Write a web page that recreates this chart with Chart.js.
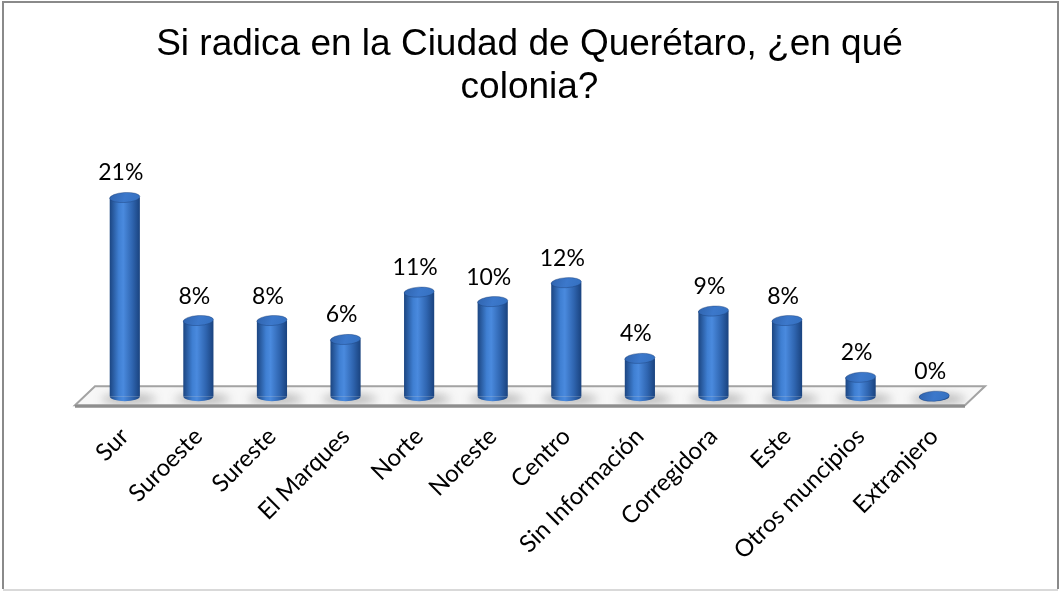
<!DOCTYPE html>
<html lang="es">
<head>
<meta charset="UTF-8">
<title>Colonia de residencia</title>
<script src="https://cdn.jsdelivr.net/npm/chart.js"></script>
<style>
  html, body { margin: 0; padding: 0; background: #fff; }
  #wrap { width: 1060px; height: 591px; }
</style>
</head>
<body>
<div id="wrap"><canvas id="coloniaChart" width="1060" height="591"></canvas></div>
<script>
const colonias = ['Sur', 'Suroeste', 'Sureste', 'El Marques', 'Norte', 'Noreste', 'Centro',
                  'Sin Información', 'Corregidora', 'Este', 'Otros muncipios', 'Extranjero'];
const porcentajes = [21, 8, 8, 6, 11, 10, 12, 4, 9, 8, 2, 0];
const titulo = ['Si radica en la Ciudad de Querétaro, ¿en qué', 'colonia?'];

const FONT_ETIQ = 'Lato, "Open Sans", sans-serif';
const RY = 5; // alto de las elipses del cilindro

// degradado horizontal para el cuerpo del cilindro
function cuerpoGrad(ctx, x, w) {
  const g = ctx.createLinearGradient(x - w / 2, 0, x + w / 2, 0);
  g.addColorStop(0, '#1c4682');
  g.addColorStop(0.3, '#3f7fd2');
  g.addColorStop(0.45, '#4a8ade');
  g.addColorStop(0.75, '#2f65b0');
  g.addColorStop(1, '#1a437f');
  return g;
}

// piso en perspectiva + sombras bajo cada barra
const pisoPlugin = {
  id: 'piso',
  beforeDatasetsDraw(chart) {
    const { ctx, scales: { x, y } } = chart;
    const base = y.getPixelForValue(0);
    const fy = base + 9, by = base - 10;
    const contorno = () => {
      ctx.beginPath();
      ctx.moveTo(x.left - 13, fy);
      ctx.lineTo(x.right - 6, fy);
      ctx.lineTo(x.right + 14, by);
      ctx.lineTo(x.left + 7, by);
      ctx.closePath();
    };
    ctx.save();
    contorno();
    ctx.fillStyle = '#f7f7f7';
    ctx.fill();
    ctx.clip();
    // sombras suaves
    ctx.filter = 'blur(5px)';
    ctx.fillStyle = 'rgba(60,60,60,0.35)';
    chart.getDatasetMeta(0).data.forEach(el => {
      ctx.beginPath();
      ctx.ellipse(el.x + 4, base + 3, el.width * 0.9, 5, 0, 0, Math.PI * 2);
      ctx.fill();
    });
    ctx.restore();

    ctx.save();
    ctx.strokeStyle = '#a3a3a3';
    ctx.lineWidth = 2;
    contorno();
    ctx.stroke();
    ctx.strokeStyle = '#8e8e8e';
    ctx.lineWidth = 3;
    ctx.beginPath();
    ctx.moveTo(x.left - 13, fy + 1);
    ctx.lineTo(x.right - 6, fy + 1);
    ctx.stroke();
    ctx.restore();
  }
};

// tapas de los cilindros y etiquetas de porcentaje
const cilindroPlugin = {
  id: 'cilindros',
  afterDatasetsDraw(chart) {
    const { ctx } = chart;
    const meta = chart.getDatasetMeta(0);
    ctx.save();
    meta.data.forEach((el, i) => {
      const rx = el.width / 2;
      // media elipse inferior
      ctx.beginPath();
      ctx.moveTo(el.x - rx, el.base);
      ctx.ellipse(el.x, el.base, rx, RY, 0, Math.PI, 0, true);
      ctx.closePath();
      ctx.fillStyle = cuerpoGrad(ctx, el.x, el.width);
      ctx.fill();
      // tapa superior
      const t = ctx.createLinearGradient(el.x - rx, el.y - RY, el.x + rx, el.y + RY);
      t.addColorStop(0, '#2f63ad');
      t.addColorStop(0.5, '#3c78cb');
      t.addColorStop(1, '#3470c0');
      ctx.beginPath();
      ctx.ellipse(el.x, el.y, rx, RY, -0.06, 0, Math.PI * 2);
      ctx.fillStyle = t;
      ctx.fill();
      ctx.strokeStyle = 'rgba(25,60,115,0.5)';
      ctx.lineWidth = 0.8;
      ctx.stroke();
      // valor
      ctx.fillStyle = '#000';
      ctx.font = '23px ' + FONT_ETIQ;
      ctx.textAlign = 'center';
      ctx.textBaseline = 'alphabetic';
      ctx.fillText(porcentajes[i] + '%', el.x - 4, el.y - RY - 12);
    });
    ctx.restore();
  }
};

// marco exterior
const marcoPlugin = {
  id: 'marco',
  afterDraw(chart) {
    const { ctx, width, height } = chart;
    ctx.save();
    ctx.strokeStyle = '#8a8a8a';
    ctx.lineWidth = 2;
    ctx.beginPath();
    ctx.moveTo(3, height - 2);
    ctx.lineTo(3, 2);
    ctx.lineTo(width - 2, 2);
    ctx.lineTo(width - 2, height - 2);
    ctx.stroke();
    ctx.strokeStyle = '#d9d9d9';
    ctx.beginPath();
    ctx.moveTo(3, height - 1);
    ctx.lineTo(width - 2, height - 1);
    ctx.stroke();
    ctx.restore();
  }
};

new Chart(document.getElementById('coloniaChart'), {
  type: 'bar',
  data: {
    labels: colonias,
    datasets: [{
      data: porcentajes,
      backgroundColor: (c) => {
        const sx = c.chart.scales.x;
        if (!sx || sx.left === undefined) return '#3a75c4';
        const px = sx.getPixelForValue(c.dataIndex);
        return cuerpoGrad(c.chart.ctx, px, 30);
      },
      borderWidth: 0,
      barPercentage: 0.41,
      categoryPercentage: 1
    }]
  },
  options: {
    responsive: false,
    animation: false,
    layout: { padding: { left: 88, right: 89, top: 0, bottom: 0 } },
    plugins: {
      legend: { display: false },
      tooltip: { enabled: false },
      title: {
        display: true,
        text: titulo,
        color: '#000',
        font: { family: '"Liberation Sans", Arial, sans-serif', size: 37, weight: 'normal', lineHeight: 1.15 },
        padding: { top: 24, bottom: 60 }
      }
    },
    scales: {
      x: {
        grid: { display: false, drawTicks: false },
        border: { display: false },
        ticks: {
          color: '#000',
          font: { family: FONT_ETIQ, size: 24 },
          minRotation: 45,
          maxRotation: 45,
          autoSkip: false,
          padding: 26
        }
      },
      y: {
        display: false,
        min: 0,
        max: 24
      }
    }
  },
  plugins: [pisoPlugin, cilindroPlugin, marcoPlugin]
});
</script>
</body>
</html>
